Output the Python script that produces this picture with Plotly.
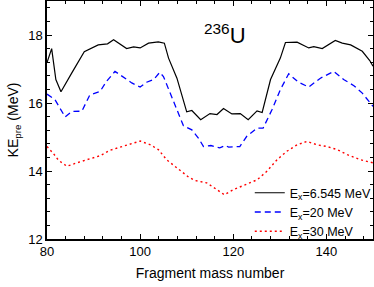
import plotly.graph_objects as go

# Ex = 6.545 MeV (black solid)
x_65 = [80, 81, 81.9, 83, 85.3, 88, 91, 93, 94.3, 95, 97.1, 98.6, 100, 101.8, 103.9, 105.2,
        106.1, 107.9, 110, 111.1, 113, 115, 116.5, 117.9, 119.7, 121.5, 123.2, 125.1, 126.2,
        128, 130.1, 131.2, 133.7, 136.2, 137.3, 139.1, 141.9, 143.4, 145.2, 147.7, 149.3, 150]
y_65 = [17.19, 17.6, 16.69, 16.33, 16.88, 17.51, 17.71, 17.74, 17.86, 17.8, 17.6, 17.65, 17.62,
        17.76, 17.8, 17.76, 17.32, 16.73, 15.74, 15.78, 15.51, 15.69, 15.66, 15.84, 15.68, 15.69,
        15.51, 15.77, 15.72, 16.69, 17.32, 17.78, 17.79, 17.62, 17.66, 17.6, 17.84, 17.76, 17.71,
        17.52, 17.25, 17.08]

# Ex = 20 MeV (blue dashed)
x_20 = [80, 81.7, 83.9, 85.3, 87.5, 89.2, 91.4, 92.8, 94.6, 96.8, 98.2, 100, 101.4, 102.9,
        104.2, 105, 106.5, 109.3, 111.1, 112.5, 113.6, 115.2, 117.1, 118.3, 119, 121.4, 122.9,
        125.1, 126.4, 128.3, 130.1, 131.9, 134, 136.2, 138.7, 141.6, 143.7, 145.9, 147.7, 149.3, 150]
y_20 = [16.26, 16.1, 15.59, 15.75, 15.76, 16.24, 16.34, 16.64, 16.93, 16.73, 16.59, 16.47, 16.61,
        16.69, 16.9, 16.78, 16.29, 15.33, 15.21, 14.97, 14.72, 14.75, 14.68, 14.75, 14.7, 14.72,
        15.02, 15.26, 15.26, 15.8, 16.39, 16.86, 16.61, 16.47, 16.73, 16.93, 16.69, 16.51, 16.29,
        16.0, 15.9]

# Ex = 30 MeV (red dotted)
x_30 = [80, 81.4, 82.5, 84.3, 86.4, 88.5, 91.4, 93.5, 96.1, 97.8, 100, 102.2, 103.9, 105.7,
        107.9, 110.4, 111.8, 114.3, 116.5, 118.1, 120, 122.6, 125.1, 127.2, 129.4, 131.5, 133.7,
        135.8, 138, 140.1, 142.3, 144.5, 147.3, 150]
y_30 = [14.72, 14.51, 14.31, 14.14, 14.24, 14.33, 14.45, 14.61, 14.72, 14.79, 14.88, 14.77, 14.63,
        14.33, 14.09, 13.82, 13.72, 13.65, 13.45, 13.3, 13.45, 13.6, 13.74, 13.99, 14.33, 14.58,
        14.77, 14.87, 14.77, 14.72, 14.63, 14.48, 14.33, 14.24]

x_ticks = [80, 100, 120, 140]
y_ticks = [12, 14, 16, 18]

FONT = "Liberation Sans, Arial, sans-serif"

fig = go.Figure()
fig.add_trace(go.Scatter(x=x_65, y=y_65, mode="lines", name="E<sub>x</sub>=6.545 MeV",
                         line=dict(color="black", width=1.2)))
fig.add_trace(go.Scatter(x=x_20, y=y_20, mode="lines", name="E<sub>x</sub>=20 MeV",
                         line=dict(color="#0000ff", width=1.3, dash="6px,4px")))
fig.add_trace(go.Scatter(x=x_30, y=y_30, mode="lines", name="E<sub>x</sub>=30 MeV",
                         line=dict(color="#ff0000", width=1.4, dash="2px,3px")))

axis_common = dict(showline=True, linecolor="black", linewidth=1.5, mirror="ticks",
                   ticks="inside", ticklen=5, tickwidth=1, tickcolor="black",
                   showgrid=False, zeroline=False,
                   tickfont=dict(family=FONT, size=13, color="black"))

fig.update_xaxes(range=[80, 150], tickvals=x_ticks, ticktext=[str(v) for v in x_ticks],
                 minor=dict(ticks="inside", ticklen=3, dtick=4, tickcolor="black", showgrid=False),
                 title=dict(text="Fragment mass number", font=dict(family=FONT, size=14, color="black"),
                            standoff=10),
                 **axis_common)
fig.update_yaxes(range=[12, 19], tickvals=y_ticks, ticktext=[str(v) for v in y_ticks],
                 minor=dict(ticks="inside", ticklen=3, dtick=0.4, tick0=12, tickcolor="black", showgrid=False),
                 title=dict(text="KE<sub>pre</sub> (MeV)", font=dict(family=FONT, size=14, color="black"),
                            standoff=6),
                 **axis_common)

fig.add_annotation(text="<sup>236</sup>U", x=0.545, y=0.86, xref="paper", yref="paper",
                   xanchor="center", yanchor="middle", showarrow=False,
                   font=dict(family=FONT, size=22, color="black"))

fig.update_layout(
    width=374, height=287,
    margin=dict(l=47, r=1, t=1, b=48, autoexpand=False),
    plot_bgcolor="white", paper_bgcolor="white",
    font=dict(family=FONT, color="black"),
    legend=dict(x=0.622, xanchor="left", y=-0.03, yanchor="bottom",
                bgcolor="rgba(0,0,0,0)", borderwidth=0,
                font=dict(family=FONT, size=12.5, color="black"),
                itemwidth=30, tracegroupgap=0),
    showlegend=True,
)

fig.write_html("out.html", config={"displayModeBar": False},
               post_script="document.body.style.margin='0px';document.body.style.overflow='hidden';")
